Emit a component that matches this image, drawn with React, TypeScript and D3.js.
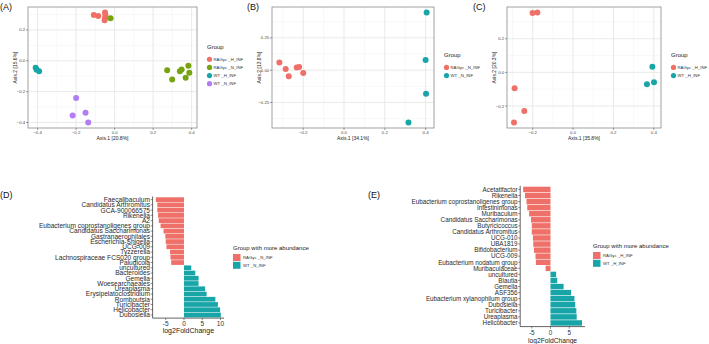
import React from 'react';
import * as d3 from 'd3';

const W = 709;
const H = 344;

const RED = '#EF7068';
const GREEN = '#77A311';
const TEAL = '#17A5A8';
const PURPLE = '#B27CF4';

// (A) PCoA, all four groups
const groupsA = ['RAGyc _H_INF', 'RAGyc _N_INF', 'WT _H_INF', 'WT _N_INF'];
const axis1A = [-0.108, -0.085, -0.05, -0.048, -0.05, -0.052, -0.021, 0.273, 0.299, 0.339, 0.348, 0.369, 0.383, 0.388, -0.41, -0.405, -0.392, -0.2, -0.218, -0.151, -0.137];
const axis2A = [0.296, 0.29, 0.313, 0.296, 0.278, 0.262, 0.275, -0.061, -0.121, -0.068, -0.057, -0.11, -0.032, -0.078, -0.045, -0.058, -0.068, -0.241, -0.354, -0.337, -0.4];
const groupA = [0, 0, 0, 0, 0, 0, 1, 1, 1, 1, 1, 1, 1, 1, 2, 2, 2, 3, 3, 3, 3];

// (B) PCoA, N_INF
const groupsB = ['RAGyc _N_INF', 'WT _N_INF'];
const axis1B = [-0.317, -0.286, -0.271, -0.232, -0.22, -0.2, 0.405, 0.4, 0.402, 0.316];
const axis2B = [0.059, 0.008, -0.048, 0.021, 0.025, -0.023, 0.446, 0.079, -0.183, -0.405];
const groupB = [0, 0, 0, 0, 0, 0, 1, 1, 1, 1];

// (C) PCoA, H_INF
const groupsC = ['RAGyc _H_INF', 'WT _H_INF'];
const axis1C = [-0.201, -0.177, -0.29, -0.242, -0.293, 0.393, 0.366, 0.401];
const axis2C = [0.353, 0.356, -0.094, -0.229, -0.298, 0.033, -0.071, -0.059];
const groupC = [0, 0, 0, 0, 0, 1, 1, 1];

// (D) differential genera, N_INF
const generaD = ['Faecalibaculum', 'Candidatus Arthromitus', 'GCA-900066575', 'Rikenella', 'A2',
  'Eubacterium coprostanoligenes group', 'Candidatus Saccharimonas', 'Gastranaerophilales',
  'Escherichia-Shigella', 'UCG-009', 'Tyzzerella', 'Lachnospiraceae FCS020 group', 'Paludicola',
  'uncultured', 'Bacteroides', 'Gemella', 'Woesearchaeales', 'Ureaplasma', 'Erysipelatoclostridium',
  'Romboutsia', 'Turicibacter', 'Helicobacter', 'Dubosiella'];
const foldD = [-7.7, -7.3, -7.3, -7.1, -6.9, -6.4, -5.6, -5.1, -5.0, -4.8, -3.8, -3.7, -3.5,
  2.0, 3.1, 4.0, 4.0, 5.8, 6.2, 8.6, 9.3, 9.9, 10.1];
const legendD = ['RAGyc _N_INF', 'WT _N_INF'];

// (E) differential genera, H_INF
const generaE = ['Acetatifactor', 'Rikenella', 'Eubacterium coprostanoligenes group', 'Intestinimonas',
  'Muribaculum', 'Candidatus Saccharimonas', 'Butyricicoccus', 'Candidatus Arthromitus', 'UCG-010',
  'UBA1819', 'Bifidobacterium', 'UCG-009', 'Eubacterium nodatum group', 'Muribaculaceae',
  'uncultured', 'Blautia', 'Gemella', 'ASF356', 'Eubacterium xylanophilum group', 'Dubosiella',
  'Turicibacter', 'Ureaplasma', 'Helicobacter'];
const foldE = [-7.3, -6.8, -6.4, -6.2, -5.7, -5.2, -5.0, -5.0, -4.7, -4.6, -4.4, -4.0, -3.9, -1.3,
  1.5, 1.8, 3.5, 5.5, 6.4, 6.6, 6.9, 7.0, 8.4];
const legendE = ['RAGyc _H_INF', 'WT _H_INF'];

const FONT = 'Liberation Sans, Arial, sans-serif';

function expand(vals: number[], mult = 0.05): [number, number] {
  const [lo, hi] = d3.extent(vals) as [number, number];
  const pad = (hi - lo) * mult;
  return [lo - pad, hi + pad];
}

function minorTicks(ticks: number[], domain: [number, number]) {
  const step = ticks[1] - ticks[0];
  const out: number[] = [];
  for (let v = ticks[0] - step / 2; v <= domain[1]; v += step) {
    if (v >= domain[0]) out.push(v);
  }
  return out;
}

type ScatterProps = {
  box: { l: number; r: number; t: number; b: number };
  xs: number[]; ys: number[]; gs: number[];
  groups: string[]; colors: string[];
  xTicks: number[]; yTicks: number[]; fmtY: (v: number) => string;
  xTitle: string; yTitle: string;
  legendX: number; label: string; labelX: number;
};

function Scatter(p: ScatterProps) {
  const { box } = p;
  const xDom = expand(p.xs);
  const yDom = expand(p.ys);
  const x = d3.scaleLinear().domain(xDom).range([box.l, box.r]);
  const y = d3.scaleLinear().domain(yDom).range([box.b, box.t]);
  const fx = d3.format('.1f');
  const mid = 71.5;
  const legY = (i: number) => mid + (i - (p.groups.length - 1) / 2) * 8.1;
  return (
    <g fontFamily={FONT}>
      <text x={p.labelX} y={10} fontSize={9} fill="#111">{p.label}</text>
      <rect x={box.l} y={box.t} width={box.r - box.l} height={box.b - box.t} fill="#fff" />
      {minorTicks(p.xTicks, xDom).map(v => (
        <line key={'mx' + v} x1={x(v)} x2={x(v)} y1={box.t} y2={box.b} stroke="#EDEDED" strokeWidth={0.4} />
      ))}
      {minorTicks(p.yTicks, yDom).map(v => (
        <line key={'my' + v} x1={box.l} x2={box.r} y1={y(v)} y2={y(v)} stroke="#EDEDED" strokeWidth={0.4} />
      ))}
      {p.xTicks.map(v => (
        <line key={'gx' + v} x1={x(v)} x2={x(v)} y1={box.t} y2={box.b} stroke="#E3E3E3" strokeWidth={0.8} />
      ))}
      {p.yTicks.map(v => (
        <line key={'gy' + v} x1={box.l} x2={box.r} y1={y(v)} y2={y(v)} stroke="#E3E3E3" strokeWidth={0.8} />
      ))}
      <rect x={box.l} y={box.t} width={box.r - box.l} height={box.b - box.t} fill="none" stroke="#8A8A8A" strokeWidth={0.8} />
      {p.xTicks.map(v => (
        <g key={'tx' + v}>
          <line x1={x(v)} x2={x(v)} y1={box.b} y2={box.b + 2} stroke="#444" strokeWidth={0.5} />
          <text x={x(v)} y={box.b + 6} fontSize={4.3} textAnchor="middle" fill="#444">{fx(v)}</text>
        </g>
      ))}
      {p.yTicks.map(v => (
        <g key={'ty' + v}>
          <line x1={box.l - 2} x2={box.l} y1={y(v)} y2={y(v)} stroke="#444" strokeWidth={0.5} />
          <text x={box.l - 2.8} y={y(v) + 1.5} fontSize={4.3} textAnchor="end" fill="#444">{p.fmtY(v)}</text>
        </g>
      ))}
      <text x={(box.l + box.r) / 2} y={box.b + 11.8} fontSize={5} textAnchor="middle" fill="#222">{p.xTitle}</text>
      <text transform={`translate(${box.l - 11},${(box.t + box.b) / 2}) rotate(-90)`} fontSize={5} textAnchor="middle" fill="#222">{p.yTitle}</text>
      {p.xs.map((v, i) => (
        <circle key={'pt' + i} cx={x(v)} cy={y(p.ys[i])} r={3} fill={p.colors[p.gs[i]]} />
      ))}
      <text x={p.legendX - 1} y={legY(0) - 10} fontSize={6} fill="#222">Group</text>
      {p.groups.map((g, i) => (
        <g key={g}>
          <circle cx={p.legendX + 1.5} cy={legY(i)} r={2.6} fill={p.colors[i]} />
          <text x={p.legendX + 5.5} y={legY(i) + 1.5} fontSize={4.3} fill="#333">{g}</text>
        </g>
      ))}
    </g>
  );
}

type BarProps = {
  cats: string[]; vals: number[]; xTicks: number[];
  box: { l: number; r: number; t: number; b: number };
  fs: number; tickLabY: number; titleY: number;
  legend: string[]; legendX: number; legendY: number;
  label: string; labelX: number; labelY: number;
};

function Bars(p: BarProps) {
  const { box } = p;
  const x = d3.scaleLinear().domain(expand(p.vals)).range([box.l, box.r]);
  const y = d3.scaleBand().domain(p.cats).range([box.t, box.b]).paddingInner(0.1).paddingOuter(0.15);
  return (
    <g fontFamily={FONT}>
      <text x={p.labelX} y={p.labelY} fontSize={9} fill="#111">{p.label}</text>
      {p.cats.map((c, i) => {
        const v = p.vals[i];
        return (
          <rect key={c + i} x={x(Math.min(0, v))} y={y(c)} width={Math.abs(x(v) - x(0))}
            height={y.bandwidth()} fill={v < 0 ? RED : TEAL} />
        );
      })}
      <line x1={box.l} x2={box.l} y1={box.t} y2={box.b} stroke="#222" strokeWidth={0.7} />
      <line x1={box.l} x2={box.r} y1={box.b} y2={box.b} stroke="#222" strokeWidth={0.7} />
      {p.cats.map((c, i) => (
        <g key={'l' + c + i}>
          <line x1={box.l - 2} x2={box.l} y1={y(c)! + y.bandwidth() / 2} y2={y(c)! + y.bandwidth() / 2} stroke="#222" strokeWidth={0.5} />
          <text x={box.l - 2.6} y={y(c)! + y.bandwidth() / 2 + p.fs * 0.36} fontSize={p.fs} textAnchor="end" fill="#2a2a2a">{c}</text>
        </g>
      ))}
      {p.xTicks.map(v => (
        <g key={'t' + v}>
          <line x1={x(v)} x2={x(v)} y1={box.b} y2={box.b + 2} stroke="#222" strokeWidth={0.5} />
          <text x={x(v)} y={p.tickLabY} fontSize={p.fs} textAnchor="middle" fill="#333">{v}</text>
        </g>
      ))}
      <text x={(box.l + box.r) / 2} y={p.titleY} fontSize={p.fs + 0.4} textAnchor="middle" fill="#222">log2FoldChange</text>
      <text x={p.legendX} y={p.legendY} fontSize={6} fill="#222">Group with more abundance</text>
      {p.legend.map((g, i) => (
        <g key={g}>
          <rect x={p.legendX} y={p.legendY + 4 + i * 7.8} width={7.5} height={7} fill={i === 0 ? RED : TEAL} />
          <text x={p.legendX + 10} y={p.legendY + 9.2 + i * 7.8} fontSize={4.3} fill="#333">{g}</text>
        </g>
      ))}
    </g>
  );
}

export default function App() {
  const fmt1 = d3.format('.1f');
  const fmt2 = d3.format('.2f');
  return (
    <svg width={W} height={H} style={{ position: 'absolute', left: 0, top: 0, background: '#fff' }}>
      <rect width={W} height={H} fill="#fff" />
      <Scatter box={{ l: 28, r: 197, t: 7, b: 128 }} xs={axis1A} ys={axis2A} gs={groupA}
        groups={groupsA} colors={[RED, GREEN, TEAL, PURPLE]}
        xTicks={[-0.4, -0.2, 0, 0.2, 0.4]} yTicks={[-0.4, -0.2, 0, 0.2]} fmtY={fmt1}
        xTitle="Axis.1   [20.8%]" yTitle="Axis.2   [15.6%]" legendX={208} label="(A)" labelX={0} />
      <Scatter box={{ l: 272, r: 434, t: 7, b: 128 }} xs={axis1B} ys={axis2B} gs={groupB}
        groups={groupsB} colors={[RED, TEAL]}
        xTicks={[-0.2, 0, 0.2, 0.4]} yTicks={[-0.25, 0, 0.25]} fmtY={fmt2}
        xTitle="Axis.1   [34.1%]" yTitle="Axis.2   [13.8%]" legendX={445} label="(B)" labelX={247} />
      <Scatter box={{ l: 507, r: 661, t: 7, b: 128 }} xs={axis1C} ys={axis2C} gs={groupC}
        groups={groupsC} colors={[RED, TEAL]}
        xTicks={[-0.2, 0, 0.2, 0.4]} yTicks={[-0.2, 0, 0.2]} fmtY={fmt1}
        xTitle="Axis.1   [35.8%]" yTitle="Axis.2   [20.3%]" legendX={672} label="(C)" labelX={473} />
      <Bars cats={generaD} vals={foldD} xTicks={[-5, 0, 5, 10]}
        box={{ l: 152.6, r: 224.1, t: 196.5, b: 318.1 }} fs={6.6}
        tickLabY={325.5} titleY={332.8}
        legend={legendD} legendX={233} legendY={250}
        label="(D)" labelX={0} labelY={198} />
      <Bars cats={generaE} vals={foldE} xTicks={[-5, 0, 5]}
        box={{ l: 520.2, r: 584.9, t: 185.8, b: 326.6 }} fs={6.3}
        tickLabY={335} titleY={342.5}
        legend={legendE} legendX={593} legendY={248}
        label="(E)" labelX={368} labelY={198} />
    </svg>
  );
}
